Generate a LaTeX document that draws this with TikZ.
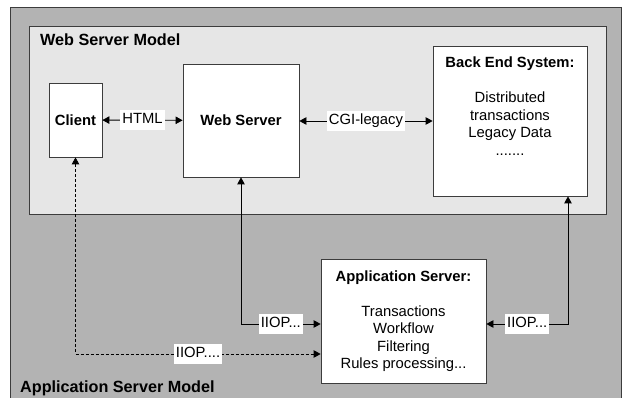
\documentclass[tikz,border=0pt]{standalone}
\usepackage{fontspec}
\setmainfont{Liberation Sans}
\usetikzlibrary{arrows.meta,positioning}

\definecolor{modelgrey}{RGB}{179,179,179}
\definecolor{webgrey}{RGB}{230,230,230}
\definecolor{edgegrey}{RGB}{60,60,60}

\newcommand{\diagfont}{\fontsize{14.8}{17.5}\selectfont}
\newcommand{\modelfont}{\fontsize{16.2}{19}\selectfont\bfseries}

\tikzset{
  model/.style={draw=edgegrey, line width=0.8pt},
  box/.style={draw=edgegrey, fill=white, line width=0.8pt, inner sep=0pt},
  tag/.style={fill=white, inner xsep=2pt, inner ysep=3pt, text height=11pt, text depth=3.5pt},
  link/.style={line width=0.8pt, {Triangle[length=7pt,width=7.5pt]}-{Triangle[length=7pt,width=7.5pt]}},
  iiop/.style={link, dash pattern=on 3pt off 2pt},
}

\begin{document}
\begin{tikzpicture}[x=1pt, y=-1pt, font=\diagfont]
  \clip (0,0) rectangle (625,398);
  % Models
  \draw[model, fill=modelgrey] (10,7) rectangle (621,410);
  \draw[model, fill=webgrey] (29,26) rectangle (606,214);
  \node[anchor=base west, inner sep=0pt, font=\modelfont] (webmodel) at (40,46) {Web Server Model}; %
  \node[anchor=base west, inner sep=0pt, font=\modelfont] (appmodel) at (20,393) {Application Server Model}; %

  % Nodes
  \node[box, minimum width=53pt, minimum height=74pt, font=\diagfont\bfseries] (client) at (75.5,120) {Client}; %
  \node[box, minimum width=116pt, minimum height=113pt, font=\diagfont\bfseries] (webserver) at (241,120.5) {Web Server}; %
  \node[box, minimum width=154pt, minimum height=150pt] (backend) at (510,121) {}; %
  \node[align=center, inner sep=0pt, below=10.5pt of backend.north] (backendtext)
    {\textbf{Back End System:}\\[18pt]Distributed\\transactions\\Legacy Data\\.......}; %
  \node[box, minimum width=165pt, minimum height=124pt, align=center] (appserver) at (403.5,321)
    {\textbf{Application Server:}\\[17.5pt]Transactions\\Workflow\\Filtering\\Rules processing...}; %

  % Connectors
  \draw[link] (client) -- node[tag] (html) {HTML} (webserver); %
  \draw[link] (webserver.east |- backend) -- node[tag] (cgi) {CGI-legacy} (backend.west); %
  \draw[link] (webserver.south) |- node[tag, pos=0.75] (iiopweb) {IIOP...} ([yshift=-3pt]appserver.west); %
  \draw[iiop] (client.south) |- node[tag, pos=0.75] (iiopclient) {IIOP....} ([yshift=-33pt]appserver.west); %
  \draw[link] ([yshift=-3pt]appserver.east) -| node[tag, pos=0.25] (iiopback) {IIOP...} ([xshift=58pt]backend.south); %
\end{tikzpicture}
\end{document}
